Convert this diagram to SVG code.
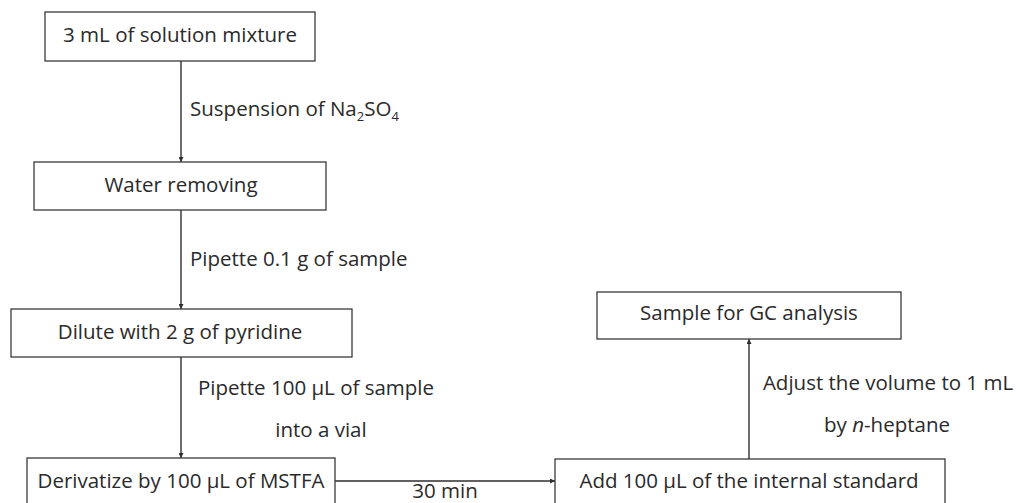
<svg xmlns="http://www.w3.org/2000/svg" width="1021" height="503" viewBox="0 0 1021 503">
<style>
  .box { fill: #ffffff; stroke: #3a3a3a; stroke-width: 1.3; }
  .t { font-family: "Open Sans", "Liberation Sans", sans-serif; font-size: 20.5px; fill: #2a2a2a; }
  .c { text-anchor: middle; }
  .ln { stroke: #2e2e2e; stroke-width: 1.4; fill: none; marker-end: url(#ah); }
</style>
<defs>
  <marker id="ah" viewBox="0 0 10 10" refX="10" refY="5" markerWidth="5" markerHeight="5" markerUnits="userSpaceOnUse" orient="auto">
    <path d="M0,0 L10,5 L0,10 z" fill="#2e2e2e"/>
  </marker>
</defs>
<rect width="1021" height="503" fill="#ffffff"/>
<g id="connectors">
  <line class="ln" x1="181" y1="61" x2="181" y2="162"/>
  <line class="ln" x1="181" y1="210" x2="181" y2="309"/>
  <line class="ln" x1="181" y1="357" x2="181" y2="458"/>
  <line class="ln" x1="335" y1="481" x2="555" y2="481"/>
  <line class="ln" x1="749" y1="459" x2="749" y2="339"/>
  <text class="t" x="190" y="116">Suspension of Na<tspan font-size="13" dy="5">2</tspan><tspan dy="-5">SO</tspan><tspan font-size="13" dy="5">4</tspan></text>
  <text class="t" x="190" y="266">Pipette 0.1 g of sample</text>
  <text class="t c" x="316" y="395">Pipette 100 µL of sample</text>
  <text class="t c" x="321" y="437">into a vial</text>
  <text class="t c" x="888" y="390">Adjust the volume to 1 mL</text>
  <text class="t c" x="887" y="432">by <tspan font-style="italic">n</tspan>-heptane</text>
  <text class="t c" x="445" y="497.5" font-size="18">30 min</text>
</g>
<g id="n1">
  <rect class="box" x="45" y="12" width="270" height="49"/>
  <text class="t c" x="180" y="42">3 mL of solution mixture</text>
</g>
<g id="n2">
  <rect class="box" x="34" y="162" width="292" height="48"/>
  <text class="t c" x="181" y="192">Water removing</text>
</g>
<g id="n3">
  <rect class="box" x="11" y="309" width="341" height="48"/>
  <text class="t c" x="180" y="339">Dilute with 2 g of pyridine</text>
</g>
<g id="n4">
  <rect class="box" x="27" y="458" width="308" height="60"/>
  <text class="t c" x="181" y="488">Derivatize by 100 µL of MSTFA</text>
</g>
<g id="n5">
  <rect class="box" x="555" y="459" width="390" height="60"/>
  <text class="t c" x="749" y="488">Add 100 µL of the internal standard</text>
</g>
<g id="n6">
  <rect class="box" x="597" y="292" width="304" height="47"/>
  <text class="t c" x="749" y="320">Sample for GC analysis</text>
</g>
</svg>
